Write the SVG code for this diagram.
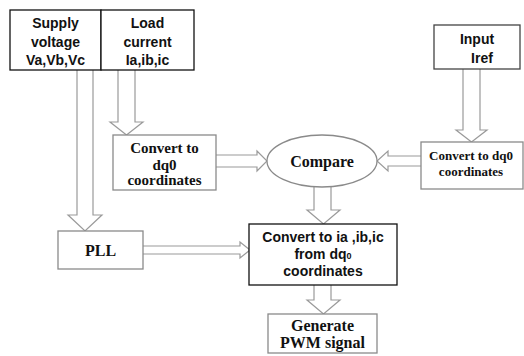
<svg xmlns="http://www.w3.org/2000/svg" width="524" height="356" viewBox="0 0 524 356">
<style>
.bk{fill:#fff;stroke:#111;stroke-width:1.3}
.gy{fill:#fff;stroke:#8a8a8a;stroke-width:1.3}
.ar{fill:#fff;stroke:#9a9a9a;stroke-width:1.2;stroke-linejoin:miter}
.ss{font-family:"Liberation Sans",Arial,sans-serif;font-weight:bold;font-size:14px;fill:#111;text-anchor:middle}
.sf{font-family:"Liberation Serif","Times New Roman",serif;font-weight:bold;fill:#111;text-anchor:middle}
</style>
<rect width="524" height="356" fill="#fff"/>
<g id="connectors">
<path class="ar" d="M77,70 V215 H68 L85,231 L102,215 H93 V70"/>
<path class="ar" d="M118,70 V122 H110 L126.5,135 L143,122 H135 V70"/>
<path class="ar" d="M463,69 V130 H456 L471.5,142 L487,130 H480 V69"/>
<path class="ar" d="M216,155 H257 V151 L267,161 L257,171 V167 H216"/>
<path class="ar" d="M421,156 H388 V151 L377,161 L388,171 V166 H421"/>
<path class="ar" d="M314,186 V210 H307 L323.5,224 L340,210 H331 V186"/>
<path class="ar" d="M143,246 H240 V242 L250,250 L240,258 V254 H143"/>
<path class="ar" d="M314,285 V300 H307 L323.5,314 L340,300 H331 V285"/>
</g>
<g id="supply">
<rect class="bk" x="10" y="10" width="91" height="60"/>
<text class="ss" x="55.5" y="28">Supply</text>
<text class="ss" x="55.5" y="47">voltage</text>
<text class="ss" x="55.5" y="65">Va,Vb,Vc</text>
</g>
<g id="load">
<rect class="bk" x="101" y="10" width="93" height="60"/>
<text class="ss" x="147.5" y="28">Load</text>
<text class="ss" x="147.5" y="47">current</text>
<text class="ss" x="147.5" y="65">Ia,ib,ic</text>
</g>
<g id="input">
<rect x="434" y="25" width="86" height="44" fill="#fff" stroke="#444" stroke-width="1.3"/>
<text class="ss" x="477" y="44">Input</text>
<text class="ss" x="482" y="63">Iref</text>
</g>
<g id="dq0left">
<rect class="gy" x="113" y="135" width="103" height="55"/>
<text class="sf" x="164.5" y="153" font-size="15">Convert to</text>
<text class="sf" x="164.5" y="170" font-size="15">dq0</text>
<text class="sf" x="164.5" y="185" font-size="15">coordinates</text>
</g>
<g id="compare">
<ellipse class="gy" cx="322" cy="161" rx="55" ry="26"/>
<text class="sf" x="322" y="167" font-size="16">Compare</text>
</g>
<g id="dq0right">
<rect class="gy" x="421" y="142" width="102" height="47"/>
<text class="sf" x="471" y="160" font-size="13">Convert to dq0</text>
<text class="sf" x="471" y="176" font-size="13">coordinates</text>
</g>
<g id="pll">
<rect class="gy" x="58" y="231" width="85" height="38"/>
<text class="sf" x="100.5" y="256" font-size="16">PLL</text>
</g>
<g id="convertabc">
<rect class="bk" x="249" y="224" width="148" height="61"/>
<text class="ss" x="323" y="242">Convert to ia ,ib,ic</text>
<text class="ss" x="323" y="259">from dq<tspan font-size="9">0</tspan></text>
<text class="ss" x="323" y="276">coordinates</text>
</g>
<g id="pwm">
<rect class="gy" x="268" y="314" width="109" height="39"/>
<text class="sf" x="322.5" y="331" font-size="16">Generate</text>
<text class="sf" x="322.5" y="348" font-size="16">PWM signal</text>
</g>
</svg>
